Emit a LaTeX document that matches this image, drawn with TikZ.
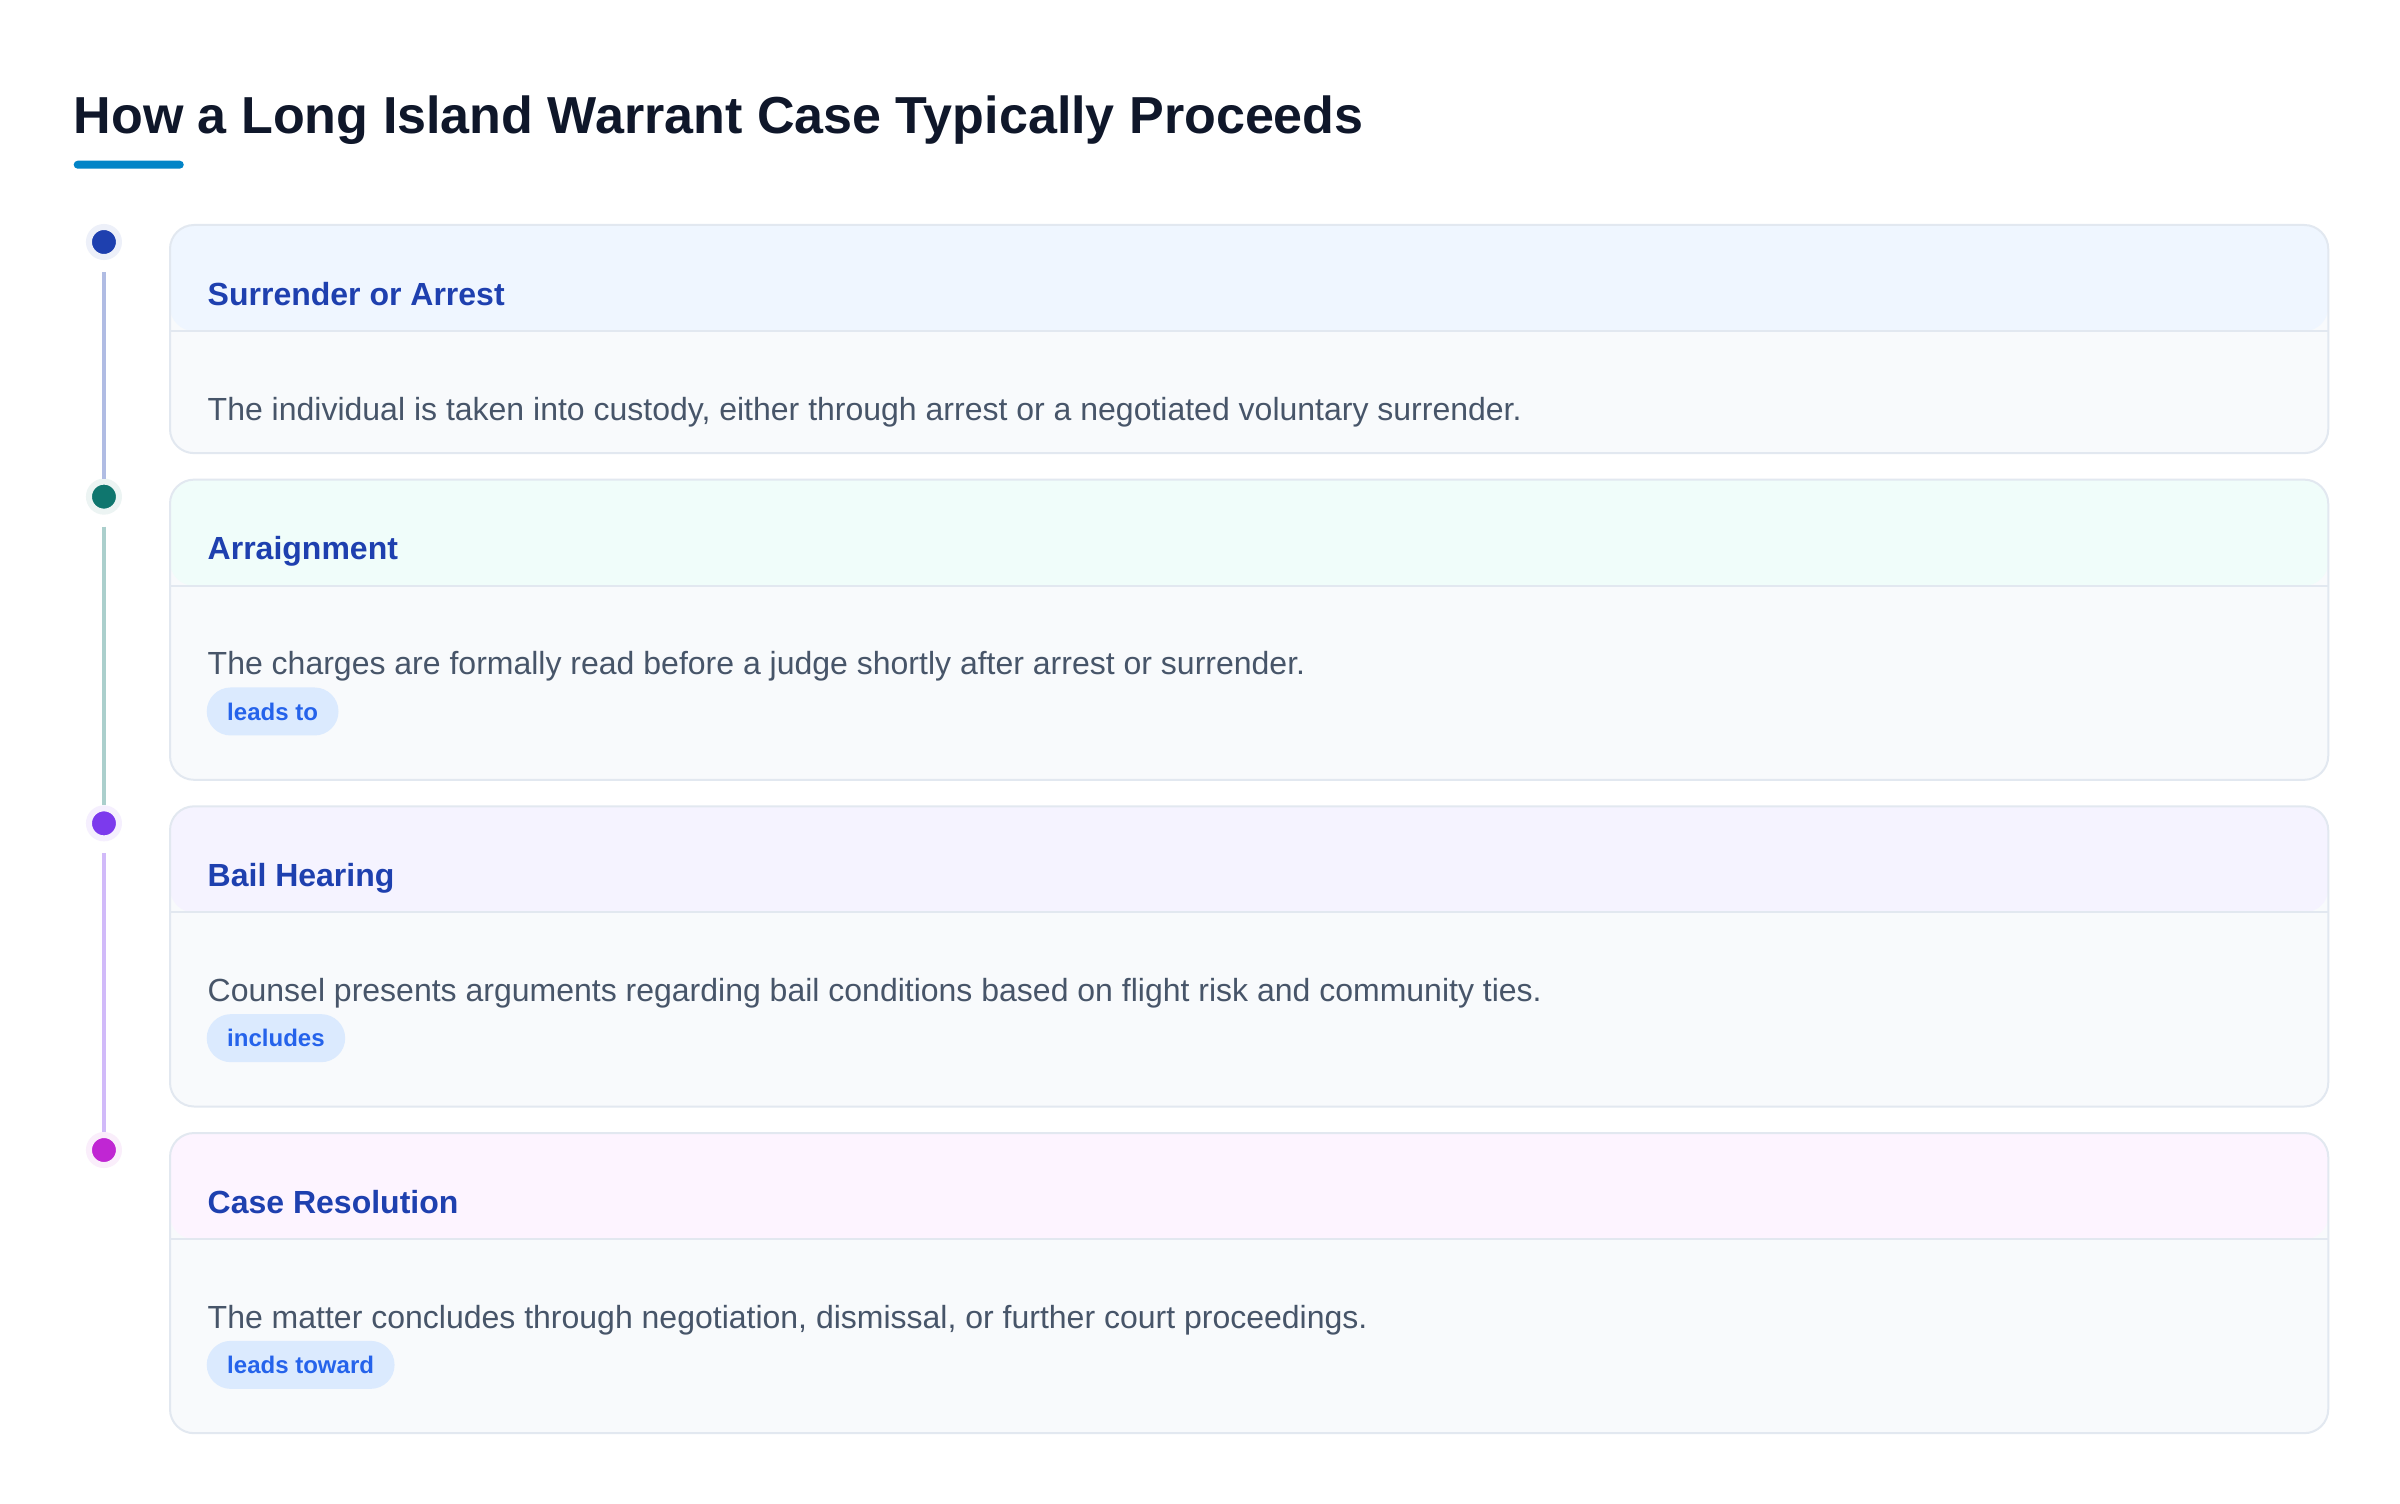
\documentclass[tikz,border=0pt]{standalone}
\usepackage{fontspec}
\setmainfont{Liberation Sans}
\usetikzlibrary{positioning}
\definecolor{ink}{HTML}{0F172A}
\definecolor{accent}{HTML}{0284C7}
\definecolor{headtext}{HTML}{1E40AF}
\definecolor{bodytext}{HTML}{475569}
\definecolor{cardline}{HTML}{E2E8F0}
\definecolor{cardbody}{HTML}{F8FAFC}
\definecolor{badgefill}{HTML}{DBEAFE}
\definecolor{badgetext}{HTML}{2563EB}
\definecolor{blueA}{HTML}{1E40AF}
\definecolor{blueH}{HTML}{EFF6FF}
\definecolor{tealA}{HTML}{0F766E}
\definecolor{tealH}{HTML}{F0FDFA}
\definecolor{violetA}{HTML}{7C3AED}
\definecolor{violetH}{HTML}{F5F3FF}
\definecolor{pinkA}{HTML}{C026D3}
\definecolor{pinkH}{HTML}{FDF4FF}
\tikzstyle{title} = [anchor=base west, inner sep=0pt, text=ink, font=\fontsize{14.8pt}{18pt}\selectfont\bfseries]
\tikzstyle{card} = [rectangle, rounded corners=0.24cm, minimum width=21.57cm, inner sep=0pt, outer sep=0pt, draw=cardline, line width=0.02cm, fill=cardbody]
\tikzset{header/.style={path picture={
	\fill[#1] (path picture bounding box.north west) rectangle ([yshift=-1.06cm]path picture bounding box.north east);
	\draw[cardline, line width=0.02cm] ([yshift=-1.06cm]path picture bounding box.north west) -- ([yshift=-1.06cm]path picture bounding box.north east);}}}
\tikzstyle{heading} = [anchor=base west, inner sep=0pt, text=headtext, font=\fontsize{9.1pt}{11pt}\selectfont\bfseries]
\tikzstyle{desc} = [anchor=base west, inner sep=0pt, text=bodytext, font=\fontsize{9.1pt}{11pt}\selectfont]
\tikzstyle{badge} = [rectangle, rounded corners=0.24cm, fill=badgefill, text=badgetext, anchor=north west, minimum height=0.48cm, inner xsep=0.205cm, inner ysep=0pt, font=\fontsize{6.83pt}{8pt}\selectfont\bfseries]
\tikzstyle{dot} = [circle, minimum size=0.30cm, inner sep=0pt, line width=0.06cm]
\tikzstyle{rail} = [line width=0.035cm, shorten <=0.12cm]

\begin{document}
\begin{tikzpicture}[x=0.01cm, y=-0.01cm, node distance=0.265cm]
			\path[use as bounding box, fill=white] (0,0) rectangle (2400,1504);
			\node (title) [title] at (73,134) {How a Long Island Warrant Case Typically Proceeds};
			\node (bar) [fill=accent, rounded corners=0.04cm, minimum width=1.10cm, minimum height=0.08cm, inner sep=0pt, anchor=north west] at (73,160) {};
			
			\node (c1) [card, header=blueH, anchor=north west, minimum height=2.28cm] at (170,225) {};
			\node (c2) [card, header=tealH, minimum height=3.00cm, below=of c1] {};
			\node (c3) [card, header=violetH, minimum height=3.00cm, below=of c2] {};
			\node (c4) [card, header=pinkH, minimum height=3.00cm, below=of c3] {};
			
			\node (h1) [heading] at ([xshift=0.37cm, yshift=-0.80cm]c1.north west) {Surrender or Arrest};
			\node (t1) [desc] at ([xshift=0.37cm, yshift=-1.95cm]c1.north west) {The individual is taken into custody, either through arrest or a negotiated voluntary surrender.};
			
			\node (h2) [heading] at ([xshift=0.37cm, yshift=-0.80cm]c2.north west) {Arraignment};
			\node (t2) [desc] at ([xshift=0.37cm, yshift=-1.95cm]c2.north west) {The charges are formally read before a judge shortly after arrest or surrender.};
			\node (b2) [badge] at ([xshift=0.36cm, yshift=-2.07cm]c2.north west) {leads to};
			
			\node (h3) [heading] at ([xshift=0.37cm, yshift=-0.80cm]c3.north west) {Bail Hearing};
			\node (t3) [desc] at ([xshift=0.37cm, yshift=-1.95cm]c3.north west) {Counsel presents arguments regarding bail conditions based on flight risk and community ties.};
			\node (b3) [badge] at ([xshift=0.36cm, yshift=-2.07cm]c3.north west) {includes};
			
			\node (h4) [heading] at ([xshift=0.37cm, yshift=-0.80cm]c4.north west) {Case Resolution};
			\node (t4) [desc] at ([xshift=0.37cm, yshift=-1.95cm]c4.north west) {The matter concludes through negotiation, dismissal, or further court proceedings.};
			\node (b4) [badge] at ([xshift=0.36cm, yshift=-2.07cm]c4.north west) {leads toward};
			
			\node (d1) [dot, fill=blueA, draw=blueA!8] at ([xshift=-0.66cm, yshift=-0.17cm]c1.north west) {};
			\node (d2) [dot, fill=tealA, draw=tealA!8] at ([xshift=-0.66cm, yshift=-0.17cm]c2.north west) {};
			\node (d3) [dot, fill=violetA, draw=violetA!8] at ([xshift=-0.66cm, yshift=-0.17cm]c3.north west) {};
			\node (d4) [dot, fill=pinkA, draw=pinkA!8] at ([xshift=-0.66cm, yshift=-0.17cm]c4.north west) {};
			
			\draw [rail, blueA!35] (d1) -- (d2);
			\draw [rail, tealA!35] (d2) -- (d3);
			\draw [rail, violetA!35] (d3) -- (d4);
		\end{tikzpicture}
\end{document}
